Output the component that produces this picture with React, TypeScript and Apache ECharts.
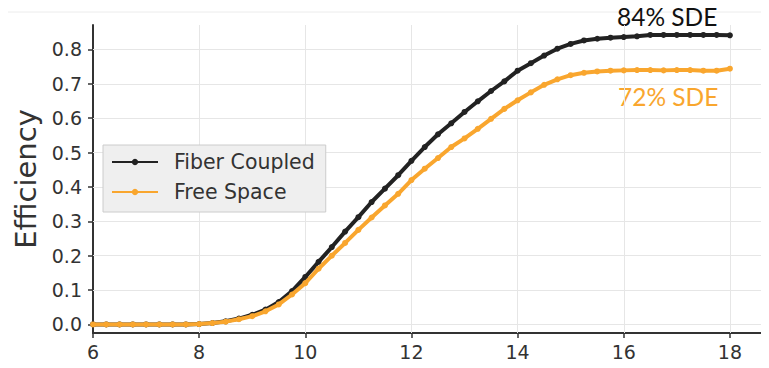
import React, { useEffect, useRef } from "react";
import * as echarts from "echarts";

// Wavelength-like sweep on the x axis, sampled every 0.25
const xValues = [
  6, 6.25, 6.5, 6.75, 7, 7.25, 7.5, 7.75,
  8, 8.25, 8.5, 8.75, 9, 9.25, 9.5, 9.75,
  10, 10.25, 10.5, 10.75, 11, 11.25, 11.5, 11.75,
  12, 12.25, 12.5, 12.75, 13, 13.25, 13.5, 13.75,
  14, 14.25, 14.5, 14.75, 15, 15.25, 15.5, 15.75,
  16, 16.25, 16.5, 16.75, 17, 17.25, 17.5, 17.75, 18,
];

const fiberCoupled = [
  0, 0, 0, 0, 0, 0, 0, 0,
  0.001, 0.004, 0.009, 0.017, 0.028, 0.043, 0.065, 0.097,
  0.138, 0.182, 0.225, 0.27, 0.312, 0.356, 0.395, 0.434,
  0.476, 0.516, 0.553, 0.585, 0.618, 0.649, 0.679, 0.707,
  0.738, 0.76, 0.782, 0.802, 0.816, 0.826, 0.831, 0.834,
  0.836, 0.838, 0.842, 0.842, 0.842, 0.842, 0.842, 0.842, 0.841,
];

const freeSpace = [
  0, 0, 0, 0, 0, 0, 0, 0,
  0.001, 0.004, 0.008, 0.015, 0.024, 0.038, 0.058, 0.087,
  0.12, 0.162, 0.2, 0.237, 0.275, 0.311, 0.346, 0.38,
  0.42, 0.453, 0.484, 0.516, 0.541, 0.569, 0.598, 0.627,
  0.652, 0.675, 0.697, 0.713, 0.725, 0.732, 0.736, 0.738,
  0.739, 0.74, 0.74, 0.739, 0.74, 0.74, 0.738, 0.738, 0.744,
];

const xTicks = [6, 8, 10, 12, 14, 16, 18];
const yTicks = [0, 0.1, 0.2, 0.3, 0.4, 0.5, 0.6, 0.7, 0.8];

const BLACK = "#222222";
const ORANGE = "#F9A62E";
const AXIS = "#333333";
const FONT = "DejaVu Sans";

export default function App() {
  const ref = useRef<HTMLDivElement>(null);

  useEffect(() => {
    if (!ref.current) return;
    const chart = echarts.init(ref.current, null, { renderer: "svg" });

    const gridLines = [
      ...yTicks.map((v) => ({ yAxis: v })),
      ...xTicks.filter((v) => v > 6).map((v) => ({ xAxis: v })),
    ];

    chart.setOption({
      animation: false,
      backgroundColor: "#ffffff",
      grid: { left: 93, right: 3, top: 25, bottom: 35, containLabel: false },
      xAxis: {
        type: "value",
        min: 6,
        max: 18.68,
        axisLine: { onZero: false, lineStyle: { color: AXIS, width: 2 } },
        axisTick: { customValues: xTicks, length: 5, lineStyle: { color: AXIS, width: 1.5 } },
        axisLabel: {
          customValues: xTicks,
          margin: 9,
          fontFamily: FONT,
          fontSize: 19,
          color: AXIS,
        },
        splitLine: { show: false },
      },
      yAxis: {
        type: "value",
        min: -0.025,
        max: 0.871,
        name: "Efficiency",
        nameLocation: "middle",
        nameGap: 48,
        nameTextStyle: { fontFamily: FONT, fontSize: 29, color: AXIS },
        axisLine: { show: true, lineStyle: { color: AXIS, width: 2 } },
        axisTick: { show: true, customValues: yTicks, length: 5, lineStyle: { color: AXIS, width: 1.5 } },
        axisLabel: {
          customValues: yTicks,
          margin: 11,
          fontFamily: FONT,
          fontSize: 19,
          color: AXIS,
          formatter: (v: number) => v.toFixed(1),
        },
        splitLine: { show: false },
      },
      legend: {
        orient: "vertical",
        left: 103,
        top: 145,
        padding: [6, 11, 9, 8],
        itemGap: 8,
        itemWidth: 46,
        itemHeight: 8,
        backgroundColor: "#efefef",
        borderColor: "#cccccc",
        borderWidth: 1,
        borderRadius: 0,
        textStyle: {
          fontFamily: FONT,
          fontSize: 20.5,
          lineHeight: 22,
          color: AXIS,
          padding: [0, 0, 0, 11],
        },
        data: ["Fiber Coupled", "Free Space"],
      },
      graphic: [
        {
          type: "line",
          shape: { x1: 0, y1: 12, x2: 769, y2: 12 },
          style: { stroke: "#ececec", lineWidth: 1 },
          silent: true,
        },
        {
          type: "text",
          x: 617,
          y: 4,
          style: { text: "84% SDE", font: "24.5px Lato", fill: "#111111" },
        },
        {
          type: "text",
          x: 618,
          y: 84,
          style: { text: "72% SDE", font: "24.5px Lato", fill: ORANGE },
        },
      ],
      series: [
        {
          name: "grid",
          type: "line",
          data: [],
          silent: true,
          markLine: {
            z: 1,
            silent: true,
            symbol: "none",
            label: { show: false },
            lineStyle: { color: "#e6e6e6", width: 1, type: "solid" },
            emphasis: { disabled: true },
            data: gridLines,
          },
        },
        {
          name: "Fiber Coupled",
          type: "line",
          z: 3,
          data: xValues.map((x, i) => [x, fiberCoupled[i]]),
          symbol: "circle",
          symbolSize: 6,
          itemStyle: { color: BLACK },
          lineStyle: { color: BLACK, width: 4 },
        },
        {
          name: "Free Space",
          type: "line",
          z: 4,
          data: xValues.map((x, i) => [x, freeSpace[i]]),
          symbol: "circle",
          symbolSize: 6,
          itemStyle: { color: ORANGE },
          lineStyle: { color: ORANGE, width: 4 },
        },
      ],
    });

    return () => chart.dispose();
  }, []);

  return <div ref={ref} style={{ width: 769, height: 368, margin: "-8px 0 0 -8px" }} />;
}
